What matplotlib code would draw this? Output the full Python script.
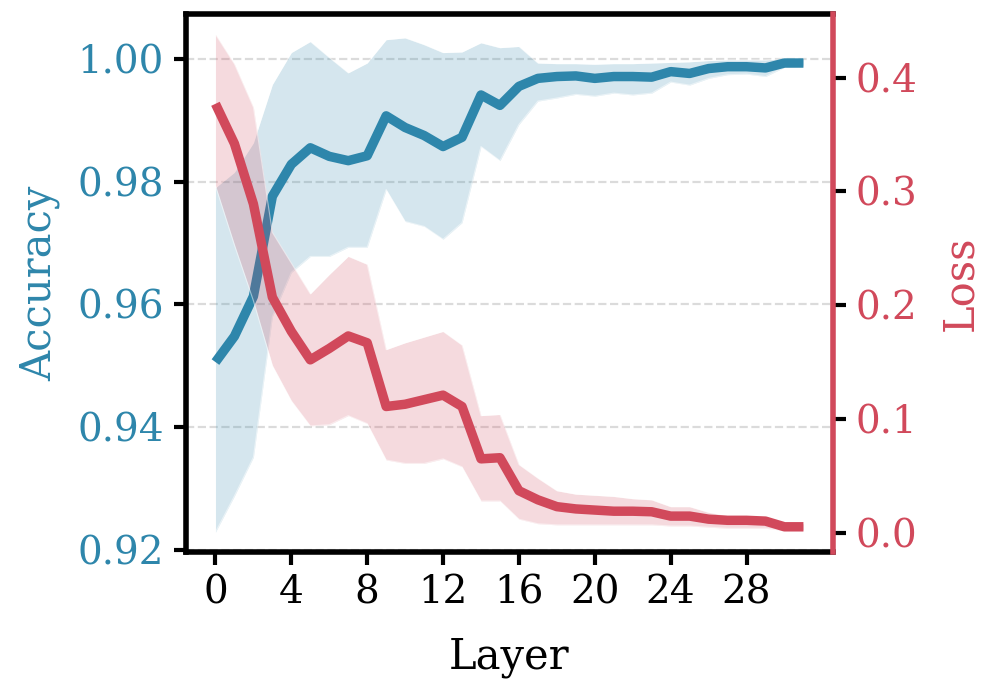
import numpy as np
from matplotlib import pyplot as plt

plt.rcParams['font.family'] = ['DejaVu Serif']

layers = list(range(32))

acc_mean = [0.9506, 0.9548, 0.9613, 0.9776, 0.9828, 0.9855, 0.9841, 0.9834,
            0.9842, 0.9907, 0.9888, 0.9875, 0.9857, 0.9872, 0.9941, 0.9924,
            0.9955, 0.9968, 0.9971, 0.9972, 0.9968, 0.9971, 0.9971, 0.9970,
            0.9979, 0.9976, 0.9984, 0.9987, 0.9987, 0.9985, 0.9993, 0.9993]
acc_upper = [0.9790, 0.9815, 0.9863, 0.9958, 1.0010, 1.0028, 1.0002, 0.9977,
             0.9993, 1.0031, 1.0034, 1.0023, 1.0010, 1.0011, 1.0026, 1.0018,
             1.0020, 0.9993, 0.9992, 0.9992, 0.9991, 0.9992, 0.9992, 0.9993,
             0.9994, 0.9995, 0.9997, 0.9998, 0.9998, 0.9998, 1.0000, 1.0000]
acc_lower = [0.9229, 0.9288, 0.9351, 0.9580, 0.9652, 0.9678, 0.9678, 0.9693,
             0.9693, 0.9787, 0.9735, 0.9727, 0.9706, 0.9733, 0.9857, 0.9834,
             0.9893, 0.9931, 0.9936, 0.9942, 0.9939, 0.9944, 0.9941, 0.9944,
             0.9962, 0.9957, 0.9968, 0.9974, 0.9975, 0.9971, 0.9986, 0.9988]

loss_mean = [0.377, 0.342, 0.289, 0.207, 0.177, 0.152, 0.162, 0.173,
             0.167, 0.111, 0.113, 0.117, 0.121, 0.111, 0.065, 0.066,
             0.037, 0.029, 0.023, 0.021, 0.020, 0.019, 0.019, 0.0185,
             0.0147, 0.0147, 0.012, 0.011, 0.011, 0.0103, 0.0053, 0.0053]
loss_upper = [0.438, 0.412, 0.374, 0.264, 0.237, 0.210, 0.227, 0.243,
              0.236, 0.161, 0.167, 0.172, 0.177, 0.165, 0.103, 0.104,
              0.060, 0.048, 0.037, 0.034, 0.033, 0.032, 0.030, 0.029,
              0.023, 0.023, 0.018, 0.015, 0.015, 0.013, 0.0085, 0.008]
loss_lower = [0.305, 0.253, 0.204, 0.147, 0.116, 0.094, 0.095, 0.103,
              0.096, 0.064, 0.061, 0.061, 0.065, 0.058, 0.028, 0.028,
              0.012, 0.008, 0.007, 0.007, 0.007, 0.007, 0.007, 0.007,
              0.006, 0.006, 0.005, 0.004, 0.004, 0.004, 0.002, 0.002]

blue = "#2E86AB"
red = "#D1495B"

fig = plt.figure(figsize=(4.975, 3.475), dpi=200)
ax1 = fig.add_axes([0.187, 0.206, 0.650, 0.774])
ax2 = ax1.twinx()

# bands, with a faint white line on their edges
ax1.fill_between(layers, acc_lower, acc_upper, color=blue, alpha=0.2, linewidth=0)
ax1.plot(layers, acc_upper, color="white", lw=0.4, alpha=0.5)
ax1.plot(layers, acc_lower, color="white", lw=0.4, alpha=0.5)
ax1.plot(layers, acc_mean, color=blue, lw=3.4, solid_capstyle="butt")

ax2.fill_between(layers, loss_lower, loss_upper, color=red, alpha=0.2, linewidth=0)
ax2.plot(layers, loss_upper, color="white", lw=0.4, alpha=0.5)
ax2.plot(layers, loss_lower, color="white", lw=0.4, alpha=0.5)
ax2.plot(layers, loss_mean, color=red, lw=3.4, solid_capstyle="butt")

ax1.set_xlim(-1.55, 32.55)
ax1.set_ylim(0.9197, 1.0073)
ax2.set_ylim(-0.0167, 0.456)

ax1.set_xticks([0, 4, 8, 12, 16, 20, 24, 28])
ax1.set_yticks([0.92, 0.94, 0.96, 0.98, 1.00])
ax2.set_yticks([0.0, 0.1, 0.2, 0.3, 0.4])
ax1.set_yticklabels(["0.92", "0.94", "0.96", "0.98", "1.00"])
ax2.set_yticklabels(["0.0", "0.1", "0.2", "0.3", "0.4"])

ax1.yaxis.grid(True, ls="--", color="#cccccc", alpha=0.7, lw=0.8)
ax1.set_axisbelow(True)

ax1.set_xlabel("Layer", fontsize=15, labelpad=9)
ax1.set_ylabel("Accuracy", fontsize=15, color=blue, labelpad=6)
ax2.set_ylabel("Loss", fontsize=15, color=red, labelpad=8)

ax1.tick_params(axis="x", labelsize=14, width=1.5, length=4.5, colors="black")
ax1.tick_params(axis="y", labelsize=14, width=1.5, length=4.5, labelcolor=blue)
ax2.tick_params(axis="y", labelsize=14, width=1.5, length=4.5, labelcolor=red)

for s in ["left", "bottom", "top"]:
    ax1.spines[s].set_linewidth(2)
    ax1.spines[s].set_color("black")
ax1.spines["right"].set_visible(False)
for s in ["left", "bottom", "top"]:
    ax2.spines[s].set_visible(False)
ax2.spines["right"].set_linewidth(2)
ax2.spines["right"].set_color(red)

fig.savefig("out.png", dpi=200)
